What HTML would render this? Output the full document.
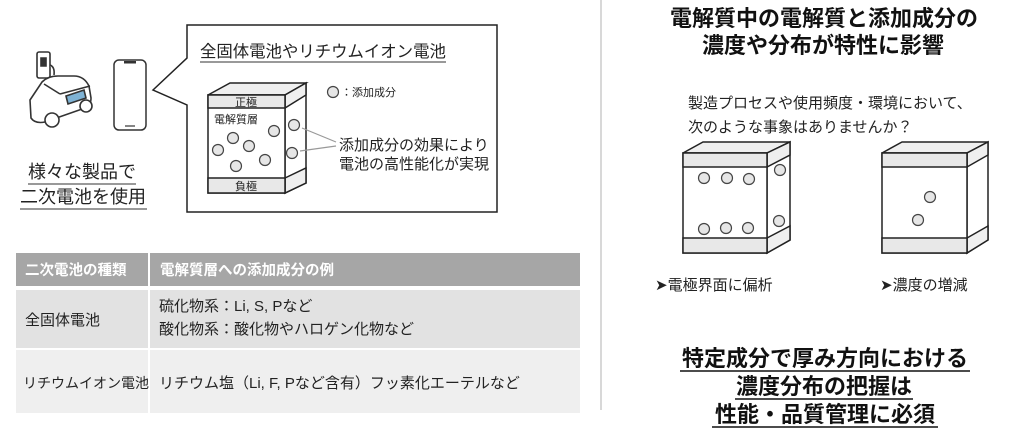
<!DOCTYPE html>
<html><head><meta charset="utf-8"><style>
html,body{margin:0;padding:0;background:#fff;}
svg{display:block;}
text{font-family:"Liberation Sans","Noto Sans CJK JP",sans-serif;fill:#222;}
.b{font-weight:bold;fill:#111;}
</style></head><body>
<svg width="1024" height="435" viewBox="0 0 1024 435" xmlns="http://www.w3.org/2000/svg">
<!-- divider -->
<line x1="601" y1="0" x2="601" y2="410" stroke="#ccc" stroke-width="1.5"/>

<!-- car icon -->
<g stroke="#333" stroke-width="1.6" fill="#fff">
<rect x="37" y="52" width="13" height="26" rx="2"/>
<path d="M41 58 h5 v8 h-5z" fill="#333"/>
<path d="M50 65 q5 2 4 10"/>
<path d="M30 100 l12-18 q6-6 16-6 h16 q10 0 15 10 l2 12 q0 8-6 10 l-40 14 q-10 2-14-4z"/>
<path d="M44 84 l16 10 M60 94 l30-8" fill="none"/>
<path d="M66 96 l18-6 l2 8 l-18 6z" fill="#7fb3d5"/>
<circle cx="52" cy="120" r="7"/><circle cx="86" cy="106" r="6"/>
</g>
<!-- phone -->
<rect x="114" y="60" width="32" height="70" rx="5" fill="#fff" stroke="#333" stroke-width="1.5"/>
<rect x="124" y="61" width="12" height="2.5" fill="#333"/>
<line x1="125" y1="126" x2="135" y2="126" stroke="#333" stroke-width="1.2"/>

<text x="28" y="178" font-size="18">様々な製品で</text>
<line x1="28" y1="184" x2="136" y2="184" stroke="#333" stroke-width="1"/>
<text x="20" y="203" font-size="18">二次電池を使用</text>
<line x1="20" y1="209" x2="147" y2="209" stroke="#333" stroke-width="1"/>

<!-- callout -->
<path d="M187 25 H497 V212 H187 V105 L153 90 L187 58 Z" fill="#fff" stroke="#222" stroke-width="1.5"/>
<text x="200" y="57" font-size="16.4">全固体電池やリチウムイオン電池</text>
<line x1="200" y1="62" x2="446" y2="62" stroke="#333" stroke-width="1"/>

<!-- battery 1 -->
<g stroke="#222" stroke-width="1.5">
<path d="M208 95 L230 83 H306 L285 95 Z" fill="#efefef"/>
<path d="M285 95 L306 83 V183 L285 193 Z" fill="#fff"/>
<path d="M285 95 L306 83 V95 L285 108 Z" fill="#efefef"/>
<path d="M285 178 L306 168 V183 L285 193 Z" fill="#efefef"/>
<rect x="208" y="95" width="77" height="98" fill="#fff"/>
<rect x="208" y="95" width="77" height="13" fill="#e8e8e8"/>
<rect x="208" y="178" width="77" height="15" fill="#e8e8e8"/>
</g>
<text x="235" y="106" font-size="11">正極</text>
<text x="235" y="190" font-size="11">負極</text>
<text x="214" y="123" font-size="11">電解質層</text>
<g fill="#e6e6e6" stroke="#444" stroke-width="1.2">
<circle cx="274" cy="131" r="5.5"/><circle cx="233" cy="138" r="5.5"/><circle cx="249" cy="146" r="5.5"/>
<circle cx="218" cy="150" r="5.5"/><circle cx="265" cy="160" r="5.5"/><circle cx="236" cy="166" r="5.5"/>
<circle cx="294" cy="125" r="5.5"/><circle cx="292" cy="153" r="5.5"/>
<circle cx="333" cy="92" r="5.5"/>
</g>
<text x="341" y="96" font-size="11">：添加成分</text>
<g stroke="#999" stroke-width="1.2">
<line x1="336" y1="142" x2="302" y2="128"/><line x1="336" y1="146" x2="300" y2="151"/>
</g>
<text x="339" y="150" font-size="15">添加成分の効果により</text>
<text x="339" y="169" font-size="15">電池の高性能化が実現</text>

<!-- table -->
<rect x="16" y="253" width="564" height="33" fill="#a6a6a6"/>
<rect x="16" y="290" width="564" height="58" fill="#e2e2e2"/>
<rect x="16" y="350" width="564" height="63" fill="#efefef"/>
<line x1="149" y1="253" x2="149" y2="413" stroke="#fff" stroke-width="2"/>
<text x="25" y="275" font-size="14.5" style="fill:#fff;font-weight:bold">二次電池の種類</text>
<text x="160" y="275" font-size="14.5" style="fill:#fff;font-weight:bold">電解質層への添加成分の例</text>
<text x="25" y="325" font-size="15">全固体電池</text>
<text x="159" y="311" font-size="15">硫化物系：Li, S, Pなど</text>
<text x="159" y="334" font-size="15">酸化物系：酸化物やハロゲン化物など</text>
<text x="23" y="388" font-size="14">リチウムイオン電池</text>
<text x="159" y="388" font-size="15">リチウム塩（Li, F, Pなど含有）フッ素化エーテルなど</text>

<!-- right -->
<text x="824" y="26" font-size="22" text-anchor="middle" class="b">電解質中の電解質と添加成分の</text>
<text x="823" y="53" font-size="22" text-anchor="middle" class="b">濃度や分布が特性に影響</text>
<text x="688" y="108" font-size="15">製造プロセスや使用頻度・環境において、</text>
<text x="688" y="132" font-size="15">次のような事象はありませんか？</text>

<g stroke="#222" stroke-width="1.5">
<path d="M683 153 L703 142 H790 L767 153 Z" fill="#efefef"/>
<path d="M767 153 L790 142 V240 L767 253 Z" fill="#fff"/>
<path d="M767 153 L790 142 V155 L767 167 Z" fill="#efefef"/>
<path d="M767 238 L790 226 V240 L767 253 Z" fill="#efefef"/>
<rect x="683" y="153" width="84" height="100" fill="#fff"/>
<rect x="683" y="153" width="84" height="14" fill="#e8e8e8"/>
<rect x="683" y="238" width="84" height="15" fill="#e8e8e8"/>

<path d="M882 153 L902 142 H988 L967 153 Z" fill="#efefef"/>
<path d="M967 153 L988 142 V240 L967 253 Z" fill="#fff"/>
<path d="M967 153 L988 142 V155 L967 167 Z" fill="#efefef"/>
<path d="M967 238 L988 226 V240 L967 253 Z" fill="#efefef"/>
<rect x="882" y="153" width="85" height="100" fill="#fff"/>
<rect x="882" y="153" width="85" height="14" fill="#e8e8e8"/>
<rect x="882" y="238" width="85" height="15" fill="#e8e8e8"/>
</g>
<g fill="#e6e6e6" stroke="#444" stroke-width="1.2">
<circle cx="704" cy="178" r="5.5"/><circle cx="727" cy="178" r="5.5"/><circle cx="749" cy="179" r="5.5"/>
<circle cx="704" cy="229" r="5.5"/><circle cx="726" cy="228" r="5.5"/><circle cx="748" cy="228" r="5.5"/>
<circle cx="780" cy="170" r="5.5"/><circle cx="779" cy="221" r="5.5"/>
<circle cx="930" cy="197" r="5.5"/><circle cx="918" cy="220" r="5.5"/>
</g>
<text x="655" y="290" font-size="15">➤電極界面に偏析</text>
<text x="880" y="290" font-size="15">➤濃度の増減</text>

<text x="825" y="366" font-size="22" text-anchor="middle" class="b">特定成分で厚み方向における</text>
<line x1="680" y1="371" x2="970" y2="371" stroke="#111" stroke-width="1.5"/>
<text x="824" y="394" font-size="22" text-anchor="middle" class="b">濃度分布の把握は</text>
<line x1="735" y1="399" x2="913" y2="399" stroke="#111" stroke-width="1.5"/>
<text x="825" y="422" font-size="22" text-anchor="middle" class="b">性能・品質管理に必須</text>
<line x1="712" y1="427" x2="938" y2="427" stroke="#111" stroke-width="1.5"/>
</svg>
</body></html>
